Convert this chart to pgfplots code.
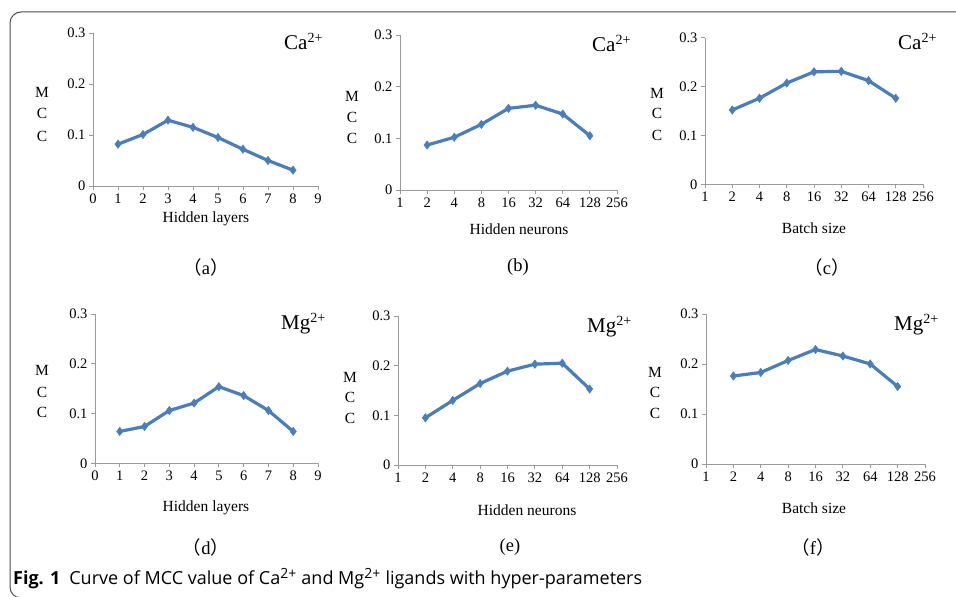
\documentclass[border=0pt]{standalone}
\usepackage{fontspec}
\setmainfont{Liberation Serif}
\newfontfamily\capfont{Open Sans}
\newfontfamily\cjk{Noto Sans CJK SC}
\usepackage{pgfplots}
\pgfplotsset{compat=1.18}
\definecolor{lineblue}{HTML}{4A7EBB}
\definecolor{axgray}{HTML}{9A9A9A}
\pgfplotsset{
  myax/.style={
    scale only axis,
    axis lines=left,
    axis line style={draw=axgray,-,line width=0.9pt},
    tick style={draw=axgray,line width=0.9pt},
    tick align=outside,
    major tick length=4pt,
    xtick pos=bottom, ytick pos=left,
    ymin=0, ymax=0.3,
    ytick={0,0.1,0.2,0.3},
    yticklabels={0,0.1,0.2,0.3},
    /pgf/number format/assume math mode=true,
    tick label style={font=\fontsize{14.5}{15}\selectfont},
    clip=false,
  },
  linax/.style={myax, xmin=0, xmax=9, xtick={0,1,...,9}, xticklabels={0,1,2,3,4,5,6,7,8,9}},
  lgax/.style={myax, xmin=1, xmax=256,
    xtick={1,2,4,8,16,32,64,128,256}, xticklabels={1,2,4,8,16,32,64,128,256}},
  ser/.style={draw=lineblue, line width=3.2pt, mark=diamond*, mark size=4.2pt,
    mark options={fill=lineblue, draw=lineblue, line width=0.5pt}},
}
\newcommand\ttl[1]{{\fontsize{21}{21}\selectfont #1\textsuperscript{\fontsize{14}{14}\selectfont 2+}}}
\newcommand\fp[1]{{\cjk （}#1{\cjk ）}}
\begin{document}
\begin{tikzpicture}
\path[use as bounding box] (0,0) rectangle (956pt,597pt);
\begin{scope}
\clip (0,0) rectangle (956pt,597pt);
\draw[black!70, line width=1pt, rounded corners=11pt] (970pt,585pt) -- (10pt,585pt) -- (10pt,-1pt) -- (30pt,-1pt);
\end{scope}

% (a)
\begin{axis}[linax, at={(93pt,411pt)}, anchor=south west, width=225pt, height=153pt]
\addplot[ser] coordinates {(1,0.082) (2,0.101) (3,0.129) (4,0.115) (5,0.095) (6,0.072) (7,0.050) (8,0.031)};
\end{axis}
% (b)
\begin{axis}[xmode=log, log basis x=2, lgax, at={(400pt,407pt)}, anchor=south west, width=217pt, height=155pt]
\addplot[ser] coordinates {(2,0.087) (4,0.102) (8,0.127) (16,0.158) (32,0.164) (64,0.147) (128,0.105)};
\end{axis}
% (c)
\begin{axis}[xmode=log, log basis x=2, lgax, at={(705pt,412.7pt)}, anchor=south west, width=218pt, height=146.7pt]
\addplot[ser] coordinates {(2,0.152) (4,0.176) (8,0.207) (16,0.230) (32,0.231) (64,0.212) (128,0.176)};
\end{axis}
% (d)
\begin{axis}[linax, at={(95pt,133.7pt)}, anchor=south west, width=223pt, height=149.3pt]
\addplot[ser] coordinates {(1,0.064) (2,0.074) (3,0.106) (4,0.121) (5,0.154) (6,0.136) (7,0.106) (8,0.064)};
\end{axis}
% (e)
\begin{axis}[xmode=log, log basis x=2, lgax, at={(398pt,132pt)}, anchor=south west, width=219pt, height=149pt]
\addplot[ser] coordinates {(2,0.095) (4,0.130) (8,0.164) (16,0.189) (32,0.203) (64,0.205) (128,0.153)};
\end{axis}
% (f)
\begin{axis}[xmode=log, log basis x=2, lgax, at={(706pt,133pt)}, anchor=south west, width=219pt, height=150pt]
\addplot[ser] coordinates {(2,0.176) (4,0.183) (8,0.207) (16,0.229) (32,0.216) (64,0.200) (128,0.155)};
\end{axis}

% ion labels
\node[anchor=base west, inner sep=0] at (284pt,547pt) {\ttl{Ca}};
\node[anchor=base west, inner sep=0] at (592pt,545pt) {\ttl{Ca}};
\node[anchor=base west, inner sep=0] at (898pt,547pt) {\ttl{Ca}};
\node[anchor=base west, inner sep=0] at (281pt,267pt) {\ttl{Mg}};
\node[anchor=base west, inner sep=0] at (587pt,264pt) {\ttl{Mg}};
\node[anchor=base west, inner sep=0] at (894pt,266pt) {\ttl{Mg}};

% MCC vertical letters
\begin{scope}[every node/.style={font=\fontsize{15.5}{16}\selectfont, inner sep=0}]
\node at (42pt,505pt) {M}; \node at (42pt,484pt) {C}; \node at (42pt,461pt) {C};
\node at (352pt,501pt) {M}; \node at (352pt,480pt) {C}; \node at (352pt,459pt) {C};
\node at (657pt,504pt) {M}; \node at (657pt,484pt) {C}; \node at (657pt,462pt) {C};
\node at (42pt,227pt) {M}; \node at (42pt,205pt) {C}; \node at (42pt,185pt) {C};
\node at (350pt,220pt) {M}; \node at (350pt,200pt) {C}; \node at (350pt,179pt) {C};
\node at (655pt,225pt) {M}; \node at (655pt,205pt) {C}; \node at (655pt,184pt) {C};
\end{scope}

% x labels
\begin{scope}[every node/.style={font=\fontsize{15.5}{16}\selectfont, inner sep=0}]
\node at (206pt,378pt) {Hidden layers};
\node at (519pt,368pt) {Hidden neurons};
\node at (814pt,369pt) {Batch size};
\node at (206pt,89pt) {Hidden layers};
\node at (527pt,87pt) {Hidden neurons};
\node at (814pt,89pt) {Batch size};
\end{scope}

% sub labels
\begin{scope}[every node/.style={font=\fontsize{18.5}{19}\selectfont, inner sep=0}]
\node at (206pt,330pt) {\fp{a}};
\node at (518pt,330pt) {(b)};
\node at (827pt,330pt) {\fp{c}};
\node at (206pt,50pt) {\fp{d}};
\node at (510pt,50pt) {(e)};
\node at (813pt,50pt) {\fp{f}};
\end{scope}

\node[anchor=base west, inner sep=0, font=\fontsize{18}{19}\capfont] at (13pt,12pt)
  {\textbf{Fig. 1}\enspace Curve of MCC value of Ca\textsuperscript{\fontsize{14}{14}\selectfont 2+} and Mg\textsuperscript{\fontsize{14}{14}\selectfont 2+} ligands with hyper-parameters};
\end{tikzpicture}
\end{document}
